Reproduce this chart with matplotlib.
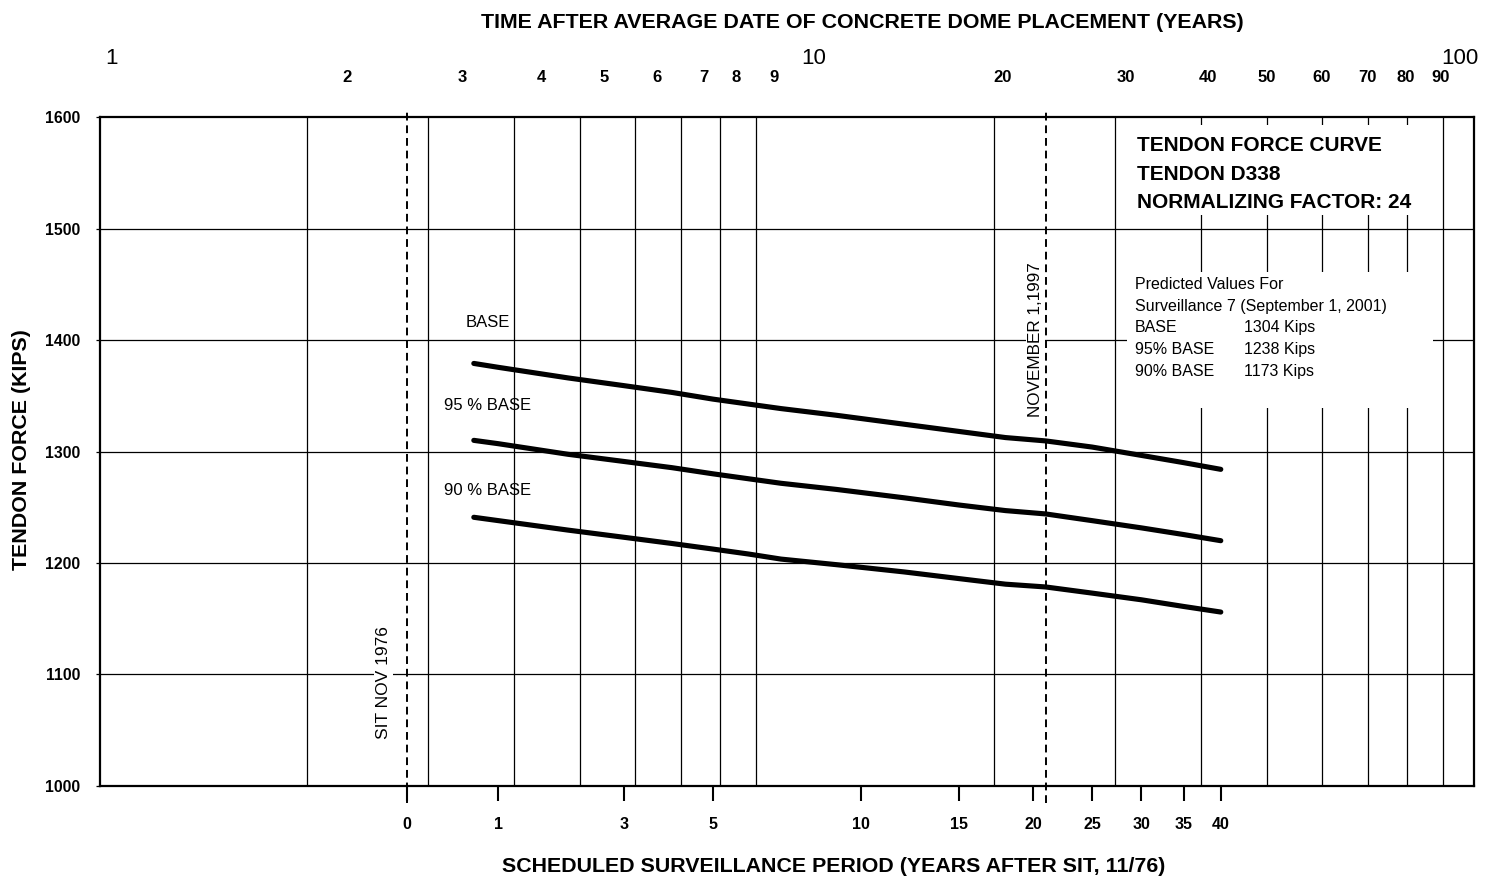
import numpy as np
import matplotlib
matplotlib.use('Agg')
import matplotlib.pyplot as plt
from matplotlib.patches import Rectangle
from matplotlib.ticker import NullLocator

# ------------------------------------------------------------
# data: predicted tendon force vs surveillance period
# ------------------------------------------------------------
sched_years = [0.7, 1, 2, 3, 4, 5, 6, 7, 9, 12, 15, 18, 21, 25, 30, 35, 40]
force_base = [1379, 1375.5, 1366, 1359, 1353, 1347, 1342.5, 1338.5, 1332.5,
              1324.5, 1318, 1312.5, 1309.5, 1304, 1296.5, 1290, 1284]
force_95 = [1310, 1307, 1297.5, 1291, 1285.5, 1280, 1275.5, 1271.5, 1266,
            1258.5, 1252, 1247, 1244, 1238, 1231.5, 1225.5, 1220]
force_90 = [1241, 1238, 1229.5, 1223, 1217.5, 1212.5, 1208, 1203.5, 1198.5,
            1192, 1186, 1181, 1178.5, 1173, 1167, 1161, 1156]

# SIT (11/76) came ~2.8 years after the average dome placement date
sit_offset = 2.8
nov_1997 = 21          # years after SIT

pred_labels = ['BASE', '95% BASE', '90% BASE']
pred_values = [1304, 1238, 1173]

top_ticks = [1, 2, 3, 4, 5, 6, 7, 8, 9, 10, 20, 30, 40, 50, 60, 70, 80, 90, 100]
top_label_shift = [11, 40, 34, 28, 24, 22, 23, 16, 18, 27, 9, 11, 7, 0, 0, 0, -2, -2, -14]
grid_years = [2, 3, 4, 5, 6, 7, 8, 9, 20, 30, 40, 50, 60, 70, 80, 90]
bottom_ticks = [0, 1, 3, 5, 10, 15, 20, 25, 30, 35, 40]
force_ticks = [1000, 1100, 1200, 1300, 1400, 1500, 1600]

plt.rcParams.update({
    'font.family': ['Liberation Sans', 'DejaVu Sans'],
    'axes.linewidth': 1.6,
})

fig = plt.figure(figsize=(14.89, 8.86), dpi=100)
ax = fig.add_axes([0.0672, 0.1129, 0.9227, 0.7550])

ax.set_xscale('log')
ax.set_xlim(1, 100)
ax.set_ylim(1000, 1600)

# grid drawn by hand so the text panels can sit on top of it
for g in grid_years:
    ax.axvline(g, color='black', lw=0.9, zorder=1)
for f in force_ticks[1:-1]:
    ax.axhline(f, color='black', lw=0.9, zorder=1)

# curves
t = np.array(sched_years)
for vals in (force_base, force_95, force_90):
    ax.plot(t + sit_offset, vals, color='black', lw=3.7,
            solid_capstyle='round', zorder=3)

ax.text(0.87 + sit_offset, 1416, 'BASE', fontsize=12, ha='center', va='center', zorder=4)
ax.text(0.87 + sit_offset, 1341, '95 % BASE', fontsize=12, ha='center', va='center', zorder=4)
ax.text(0.87 + sit_offset, 1265, '90 % BASE', fontsize=12, ha='center', va='center', zorder=4)

# dashed reference dates
xt = ax.get_xaxis_transform()
for yr in (0, nov_1997):
    ax.plot([yr + sit_offset] * 2, [-0.025, 1.013], transform=xt, clip_on=False,
            color='black', lw=1.4, ls=(0, (4, 2.5)), zorder=2)

ax.annotate('SIT NOV 1976', xy=(sit_offset, 1093), xytext=(-24, 0),
            textcoords='offset pixels', rotation=90, ha='center', va='center',
            fontsize=12.5, zorder=4,
            bbox=dict(facecolor='white', edgecolor='none', pad=1.5))
ax.annotate('NOVEMBER 1,1997', xy=(nov_1997 + sit_offset, 1400), xytext=(-10, 0),
            textcoords='offset pixels', rotation=90, ha='center', va='center',
            fontsize=12.3, zorder=4,
            bbox=dict(facecolor='white', edgecolor='none', pad=1.5))

# white panels behind the notes
for y0, h in ((0.853, 0.135), (0.565, 0.203)):
    ax.add_patch(Rectangle((0.7475, y0), 0.2225, h, transform=ax.transAxes,
                           facecolor='white', edgecolor='none', zorder=2))

ax.text(0.7547, 0.971, 'TENDON FORCE CURVE\nTENDON D338\nNORMALIZING FACTOR: 24',
        transform=ax.transAxes, fontsize=15, fontweight='bold', va='top',
        linespacing=1.62, zorder=4)
ax.text(0.753, 0.761, 'Predicted Values For\nSurveillance 7 (September 1, 2001)',
        transform=ax.transAxes, fontsize=11.5, va='top', linespacing=1.55, zorder=4)
ax.text(0.753, 0.696, '\n'.join(pred_labels),
        transform=ax.transAxes, fontsize=11.5, va='top', linespacing=1.55, zorder=4)
ax.text(0.8326, 0.696, '\n'.join(f'{v} Kips' for v in pred_values),
        transform=ax.transAxes, fontsize=11.5, va='top', linespacing=1.55, zorder=4)

# bottom axis: years after SIT
ax.xaxis.set_minor_locator(NullLocator())
ax.set_xticks([b + sit_offset for b in bottom_ticks])
ax.set_xticklabels([str(b) for b in bottom_ticks], fontsize=11.5, fontweight='bold')
ax.tick_params(axis='x', direction='out', length=11, width=1.5, pad=11)

ax.set_yticks(force_ticks)
ax.set_yticklabels([str(f) for f in force_ticks], fontsize=11.3, fontweight='bold')
ax.tick_params(axis='y', direction='out', length=3, width=0.9, pad=11)

# top axis labels: years after dome placement
for val, dx in zip(top_ticks, top_label_shift):
    big = val in (1, 10, 100)
    ax.annotate(str(val), xy=(val, 1), xycoords=('data', 'axes fraction'),
                xytext=(dx, 59 if big else 40), textcoords='offset pixels',
                ha='center', va='center', fontsize=16 if big else 12,
                fontweight='normal' if big else 'bold', annotation_clip=False)

fig.text(862 / 1489, 1 - 22 / 886, 'TIME AFTER AVERAGE DATE OF CONCRETE DOME PLACEMENT (YEARS)',
         ha='center', va='center', fontsize=15.4, fontweight='bold')
fig.text(834 / 1489, 1 - 866 / 886, 'SCHEDULED SURVEILLANCE PERIOD (YEARS AFTER SIT, 11/76)',
         ha='center', va='center', fontsize=15.4, fontweight='bold')
fig.text(22 / 1489, 1 - 450 / 886, 'TENDON FORCE (KIPS)', rotation=90,
         ha='center', va='center', fontsize=15.4, fontweight='bold')

fig.savefig('out.png', dpi=100, facecolor='white')
